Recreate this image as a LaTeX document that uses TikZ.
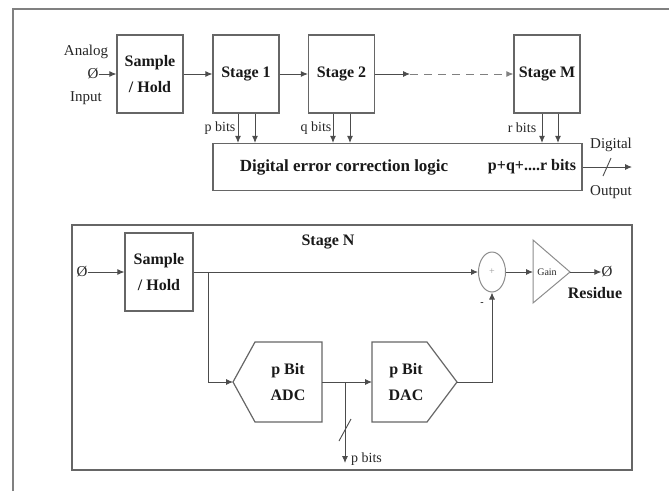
\documentclass[tikz,border=0pt]{standalone}
\usepackage{fontspec}
\setmainfont{Liberation Serif}
\usetikzlibrary{arrows.meta,shapes.geometric}
\begin{document}
\begin{tikzpicture}[x=1pt,y=-1pt,
  lc/.style={draw=black!70, line width=0.9pt},
  box/.style={draw=black!60, line width=1.2pt, minimum width=66pt, minimum height=78pt, inner sep=0pt, align=center, font=\fontsize{16}{26}\selectfont\bfseries, text=black!90},
  arr/.style={draw=black!70, line width=0.9pt, -{Latex[length=7pt,width=6pt]}},
  lbl/.style={inner sep=0pt, align=center, font=\fontsize{15}{23}\selectfont, text=black!85},
  slbl/.style={inner sep=0pt, font=\fontsize{14}{16}\selectfont, text=black!85},
  blbl/.style={inner sep=0pt, align=center, font=\fontsize{16}{26}\selectfont\bfseries, text=black!90},
  shp/.style={draw=black!60, line width=1.2pt},
]
\useasboundingbox (0,0) rectangle (669,491);
% outer frame
\draw[draw=black!50, line width=2pt] (13,491) -- (13,9) -- (669,9);

% ---------- top pipeline ----------
\node[lbl] (an) at (86,52) {Analog};
\node[lbl] (phi1) at (93,74) {Ø};
\node[lbl] (inp) at (86,98) {Input};
\node[box] (sh1) at (150,74) {Sample\\/ Hold};
\node[box] (s1) at (246,74) {Stage 1};
\node[box] (s2) at (341.5,74) {Stage 2};
\node[box] (sM) at (547,74) {Stage M};
\node[shp, minimum width=369pt, minimum height=47pt, inner sep=0pt] (dec) at (397.5,167) {};
\node[blbl, font=\fontsize{17}{20}\selectfont\bfseries] (dectext) at (344,167) {Digital error correction logic};
\node[blbl] (pqr) at (532,167) {p+q+....r bits};

\draw[arr] (phi1) -- (sh1);
\draw[arr] (sh1) -- (s1);
\draw[arr] (s1) -- (s2);
\coordinate (dsh) at (410,74);
\draw[arr] (s2.east) -- (dsh);
\draw[arr, draw=black!50, dash pattern=on 8pt off 6pt] (dsh) -- (sM.west);

\foreach \n/\o [count=\i] in {s1/-8, s1/9, s2/-8.5, s2/8.5, sM/-5, sM/11} {
  \coordinate (b\i) at ([xshift=\o pt]\n.south);
  \draw[arr] (b\i) -- (b\i |- dec.north);
}
\node[slbl] (pb) at (220,128) {p bits};
\node[slbl] (qb) at (316,128) {q bits};
\node[slbl] (rb) at (522,128) {r bits};

\coordinate (dout) at (632,167);
\draw[arr] (dec.east) -- (dout);
\draw[lc] (603,176) -- (611,158);
\node[lbl] (dig) at (611,145) {Digital};
\node[lbl] (outp) at (611,192) {Output};

% ---------- Stage N detail ----------
\node[draw=black!60, line width=1.5pt, minimum width=560pt, minimum height=245pt, inner sep=0pt] (sn) at (352,347.5) {};
\node[blbl] (snl) at (328,242) {Stage N};
\node[lbl] (phi2) at (82,272) {Ø};
\node[box, minimum width=68pt] (sh2) at (159,272) {Sample\\/ Hold};
\node[draw=black!45, line width=1pt, ellipse, minimum width=27pt, minimum height=40pt, inner sep=0pt] (sum) at (492,272) {};
\node[font=\fontsize{10}{10}\selectfont, text=black!40, inner sep=0pt] (plus) at (sum) {+};

% ADC
\draw[shp] (233,382) coordinate (adcin) -- (255,342) -- (322,342) -- (322,382) coordinate (adcout) -- (322,422) -- (255,422) -- cycle;
\node[blbl] (adc) at (288,382) {p Bit\\ADC};
% DAC
\draw[shp] (372,342) -- (427,342) -- (457,382) coordinate (dacout) -- (427,422) -- (372,422) -- (372,382) coordinate (dacin) -- cycle;
\node[blbl] (dac) at (406,382) {p Bit\\DAC};
% Gain
\draw[draw=black!45, line width=1pt] (533,240) -- (570,272) coordinate (gout) -- (533,303) -- cycle;
\coordinate (gin) at (533,272);
\node[font=\fontsize{10}{10}\selectfont, text=black!85, inner sep=0pt] (gain) at (547,272) {Gain};

\draw[arr] (phi2) -- (sh2);
\draw[arr] (sh2) -- (sum);
\coordinate (br1) at (208,272);
\draw[arr] (br1) |- (adcin);
\draw[arr] (adcout) -- (dacin);
\coordinate (br2) at (345,382);
\coordinate (pbe) at (345,463);
\draw[arr] (br2) -- (pbe);
\draw[lc] (339,441) -- (351,419);
\node[slbl, anchor=west] (pbits2) at (351,459) {p bits};
\draw[arr] (dacout) -| (sum.south);
\node[font=\fontsize{10}{10}\selectfont, inner sep=0pt] (minus) at (482,304) {-};
\draw[arr] (sum) -- (gin);
\node[lbl] (phi3) at (607,272) {Ø};
\draw[arr] (gout) -- (phi3);
\node[blbl] (res) at (595,293) {Residue};
\end{tikzpicture}
\end{document}
